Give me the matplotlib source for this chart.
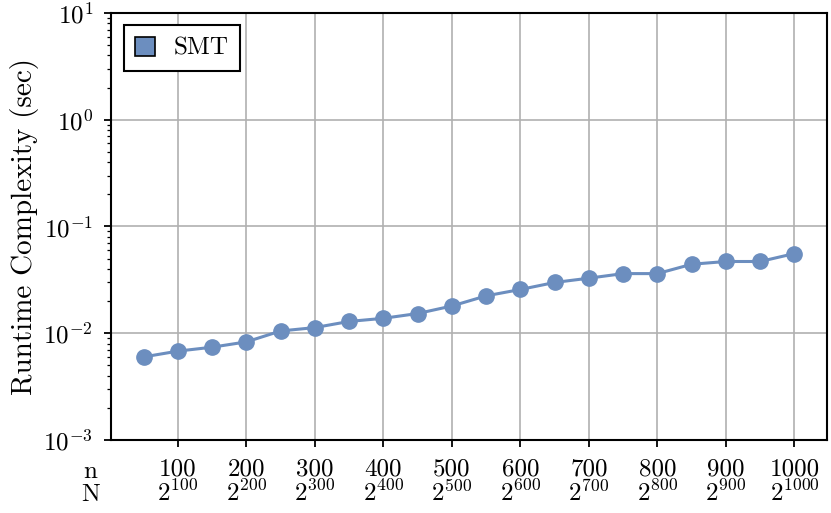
import numpy as np
import matplotlib
matplotlib.use('Agg')
import matplotlib.pyplot as plt
from matplotlib.patches import Patch

plt.rcParams['font.family'] = 'cmr10'
plt.rcParams['mathtext.fontset'] = 'cm'
plt.rcParams['axes.formatter.use_mathtext'] = True
plt.rcParams['font.size'] = 18

# data
n_values = [50, 100, 150, 200, 250, 300, 350, 400, 450, 500,
            550, 600, 650, 700, 750, 800, 850, 900, 950, 1000]
smt_runtime = [0.0060, 0.0068, 0.0074, 0.0083, 0.0105, 0.0113, 0.0129, 0.0138, 0.0153, 0.0180,
               0.0224, 0.0257, 0.0299, 0.0328, 0.0362, 0.0362, 0.0443, 0.0470, 0.0470, 0.0558]
tick_n = [100, 200, 300, 400, 500, 600, 700, 800, 900, 1000]
tick_labels = ['%d\n$2^{%d}$' % (t, t) for t in tick_n]

color = '#6c8ebf'

fig = plt.figure(figsize=(8.31, 5.13), dpi=100)
ax = fig.add_axes([0.1336, 0.1423, 0.8616, 0.8324])

ax.plot(n_values, smt_runtime, '-o', color=color, lw=2.2, markersize=11)
ax.set_yscale('log')
ax.set_ylim(1e-3, 1e1)
ax.set_xticks(tick_n)
ax.set_xticklabels(tick_labels, linespacing=1.0)
ax.grid(True, which='major', color='#b0b0b0', lw=1.2)
ax.set_axisbelow(True)

for s in ax.spines.values():
    s.set_color('black')
    s.set_linewidth(1.5)
ax.tick_params(axis='both', which='major', length=5, width=1.3, colors='black', labelsize=18)
ax.tick_params(axis='y', which='minor', length=3, width=0.9)
ax.tick_params(axis='x', pad=8)
ax.tick_params(axis='y', which='major', pad=8)

ax.set_ylabel('Runtime Complexity (sec)', fontsize=21, labelpad=3)
ax.text(-0.029, -0.05, 'n\nN', transform=ax.transAxes, ha='center', va='top',
        linespacing=1.0, fontsize=18)

handle = Patch(facecolor=color, edgecolor='black', lw=1.2)
leg = ax.legend([handle], ['SMT'], loc='upper left', fancybox=False, framealpha=1,
                edgecolor='black', handlelength=0.8, handleheight=0.8,
                borderpad=0.45, handletextpad=0.75, fontsize=18)
leg.get_frame().set_linewidth(1.5)

fig.savefig('out.png', dpi=100)
